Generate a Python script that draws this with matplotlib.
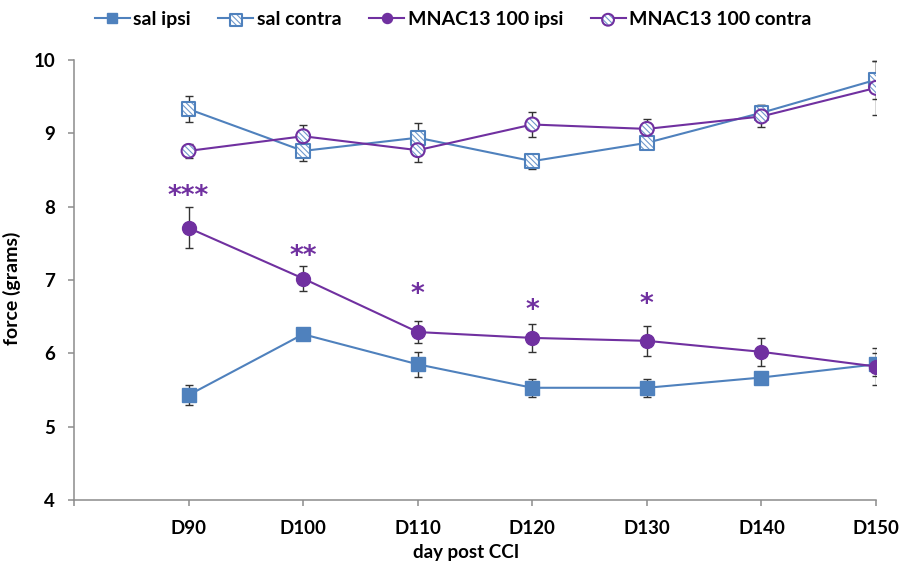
import matplotlib
matplotlib.use('Agg')
import matplotlib.pyplot as plt
from matplotlib.lines import Line2D
from matplotlib.legend_handler import HandlerTuple

plt.rcParams['font.family'] = ['Lato', 'DejaVu Sans']
plt.rcParams['hatch.linewidth'] = 0.8
plt.rcParams['hatch.color'] = '#6f98cc'

# data
days = ['D90', 'D100', 'D110', 'D120', 'D130', 'D140', 'D150']

sal_ipsi = [5.43, 6.26, 5.85, 5.53, 5.53, 5.67, 5.85]
sal_ipsi_err = [0.14, 0.05, 0.17, 0.12, 0.12, 0.05, 0.16]

sal_contra = [9.33, 8.76, 8.94, 8.62, 8.87, 9.28, 9.73]
sal_contra_err = [0.18, 0.14, 0.20, 0.10, 0.05, 0.10, 0.26]

mnac_ipsi = [7.71, 7.02, 6.29, 6.21, 6.17, 6.02, 5.82]
mnac_ipsi_err = [0.28, 0.17, 0.15, 0.19, 0.20, 0.19, 0.25]

mnac_contra = [8.76, 8.96, 8.77, 9.12, 9.06, 9.23, 9.62]
mnac_contra_err = [0.10, 0.15, 0.16, 0.17, 0.14, 0.15, 0.37]

sig_labels = ['***', '**', '*', '*', '*', '', '']
sig_y = [8.04, 7.22, 6.70, 6.48, 6.56, None, None]

BLUE = '#4f81bd'
PURPLE = '#7030a0'
HATCH_BLUE = '#6f98cc'
ERR = '#333333'

x = list(range(1, len(days) + 1))

fig = plt.figure(figsize=(9.01, 5.69), dpi=100)
ax = fig.add_axes([0.0821, 0.1213, 0.8902, 0.7733])


def draw_series(vals, errs, color, marker, hatched, z):
    ax.errorbar(x, vals, yerr=errs, fmt='none', ecolor=ERR, elinewidth=1.0,
                capsize=3, capthick=1.0, zorder=2)
    ax.plot(x, vals, color=color, lw=1.5, zorder=z)
    if hatched:
        h = ax.scatter(x, vals, s=100, marker=marker, facecolor='white',
                       edgecolor=HATCH_BLUE, linewidths=0, hatch='\\\\\\\\\\\\',
                       zorder=z + 0.1)
        o = ax.scatter(x, vals, s=100, marker=marker, facecolor='none',
                       edgecolor=color, linewidths=1.5, zorder=z + 0.2)
        return h, o
    p, = ax.plot(x, vals, ls='none', marker=marker, markersize=10,
                 color=color, markeredgecolor=color, zorder=z + 0.1)
    return p


draw_series(sal_ipsi, sal_ipsi_err, BLUE, 's', False, 3)
h_sc, o_sc = draw_series(sal_contra, sal_contra_err, BLUE, 's', True, 3)
draw_series(mnac_ipsi, mnac_ipsi_err, PURPLE, 'o', False, 4)
h_mc, o_mc = draw_series(mnac_contra, mnac_contra_err, PURPLE, 'o', True, 4)

for xi, lab, yy in zip(x, sig_labels, sig_y):
    if lab:
        ax.text(xi, yy, lab, ha='center', va='baseline', color=PURPLE,
                fontsize=19, fontweight='bold', family='DejaVu Sans')

ax.set_xlim(0, 7)
ax.set_ylim(4, 10)
ax.set_xticks(range(0, 8))
ax.set_xticklabels([''] + days)
ax.set_yticks(range(4, 11))

for side in ['top', 'right']:
    ax.spines[side].set_visible(False)
for side in ['left', 'bottom']:
    ax.spines[side].set_color('#8c8c8c')
    ax.spines[side].set_linewidth(1.1)
ax.tick_params(axis='both', colors='#8c8c8c', length=4.5, width=1.1,
               labelcolor='black', labelsize=13.5)
ax.tick_params(axis='y', pad=9)
ax.tick_params(axis='x', pad=10)
for lab in ax.get_xticklabels() + ax.get_yticklabels():
    lab.set_fontweight('bold')

ax.set_ylabel('force (grams)', fontsize=14, fontweight='bold')
ax.yaxis.set_label_coords(-0.066, 0.48)
ax.set_xlabel('day post CCI', fontsize=13.5, fontweight='bold')
ax.xaxis.set_label_coords(0.489, -0.1)

line_blue = Line2D([], [], color=BLUE, lw=1.5)
line_purple = Line2D([], [], color=PURPLE, lw=1.5)
handles = [
    Line2D([], [], color=BLUE, lw=1.5, marker='s', markersize=8.5),
    (line_blue, h_sc, o_sc),
    Line2D([], [], color=PURPLE, lw=1.5, marker='o', markersize=8.5),
    (line_purple, h_mc, o_mc),
]
labels = ['sal ipsi', 'sal contra', 'MNAC13 100 ipsi', 'MNAC13 100 contra']
fig.legend(handles, labels, loc='center', bbox_to_anchor=(0.503, 0.966),
           ncol=4, frameon=False, handlelength=1.8, handletextpad=0.2,
           columnspacing=1.4, scatterpoints=1, markerscale=0.85,
           prop={'size': 14, 'weight': 'bold'},
           handler_map={tuple: HandlerTuple(ndivide=1, pad=0)})

fig.savefig('out.png', dpi=100)
